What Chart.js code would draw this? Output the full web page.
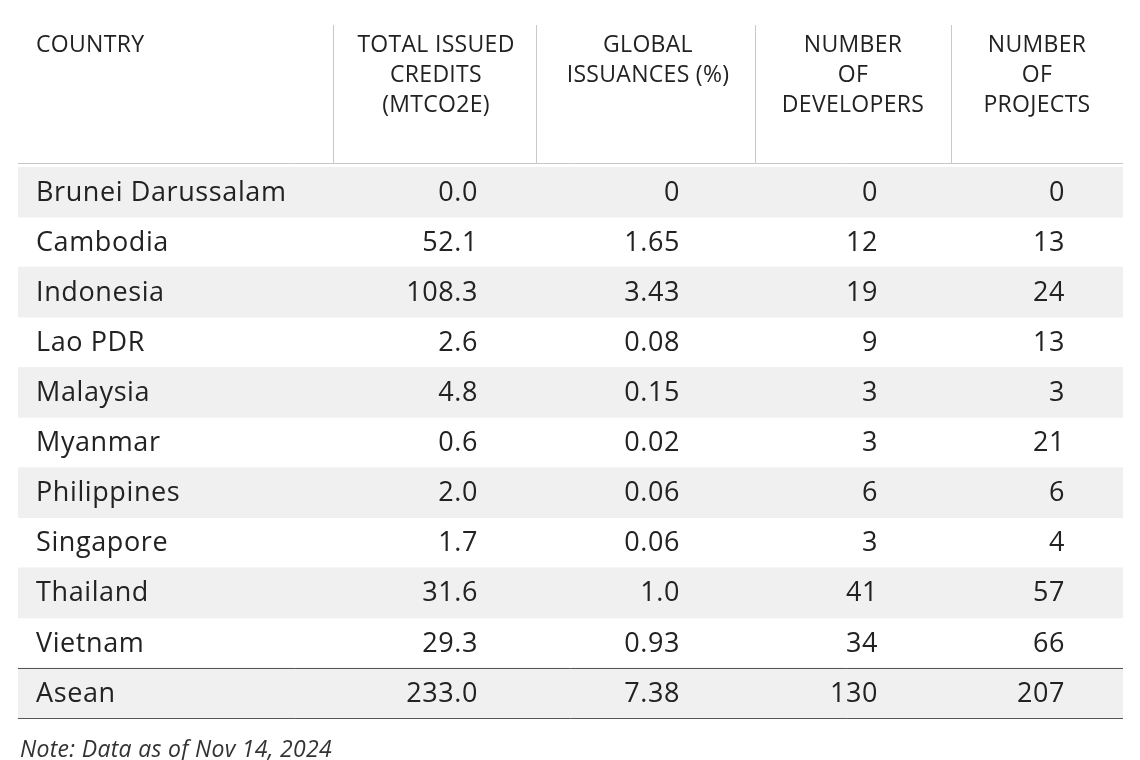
<!DOCTYPE html>
<html>
<head>
<meta charset="utf-8">
<script src="https://cdn.jsdelivr.net/npm/chart.js@4"></script>
<style>
  body { margin: 0; background: #fff; }
  #wrap { width: 1140px; height: 760px; }
</style>
</head>
<body>
<div id="wrap"><canvas id="tbl"></canvas></div>
<script>
const headers = [
    ['COUNTRY'],
    ['TOTAL ISSUED', 'CREDITS', '(MTCO2E)'],
    ['GLOBAL', 'ISSUANCES (%)'],
    ['NUMBER', 'OF', 'DEVELOPERS'],
    ['NUMBER', 'OF', 'PROJECTS']
];
const countries = ['Brunei Darussalam', 'Cambodia', 'Indonesia', 'Lao PDR', 'Malaysia', 'Myanmar',
    'Philippines', 'Singapore', 'Thailand', 'Vietnam', 'Asean'];
const credits = ['0.0', '52.1', '108.3', '2.6', '4.8', '0.6', '2.0', '1.7', '31.6', '29.3', '233.0'];
const shares = ['0', '1.65', '3.43', '0.08', '0.15', '0.02', '0.06', '0.06', '1.0', '0.93', '7.38'];
const developers = ['0', '12', '19', '9', '3', '3', '6', '3', '41', '34', '130'];
const projects = ['0', '13', '24', '13', '3', '21', '6', '4', '57', '66', '207'];
const note = 'Note: Data as of Nov 14, 2024';

const FONT = '"Open Sans", "Noto Sans", sans-serif';
const TEXT = '#222222';
const STRIPE = '#f0f0f0';

// stripe every other row plus the total row
const stripes = countries.map((_, i) => (i % 2 === 0 || i === countries.length - 1) ? [0, 1] : null);

// column anchors: [x, align]
const colHead = [[36, 'left'], [436, 'center'], [648, 'center'], [853, 'center'], [1037, 'center']];
const colBody = [[36, 'left'], [478, 'right'], [680, 'right'], [878, 'right'], [1065, 'right']];
const dividers = [333, 536, 755, 951];

const tablePlugin = {
    id: 'tableText',
    afterDatasetsDraw(chart) {
        const ctx = chart.ctx;
        const y = chart.scales.y;
        const area = chart.chartArea;
        ctx.save();
        ctx.fillStyle = TEXT;
        ctx.textBaseline = 'middle';

        // header
        ctx.font = '400 23px ' + FONT;
        ctx.letterSpacing = '0.3px';
        headers.forEach((lines, c) => {
            ctx.textAlign = colHead[c][1];
            lines.forEach((t, k) => ctx.fillText(t, colHead[c][0], 45 + k * 30));
        });

        ctx.strokeStyle = '#c8c8c8';
        ctx.lineWidth = 1;
        dividers.forEach(x => {
            ctx.beginPath(); ctx.moveTo(x + 0.5, 25); ctx.lineTo(x + 0.5, area.top - 4); ctx.stroke();
        });
        ctx.beginPath(); ctx.moveTo(area.left, area.top - 3.5); ctx.lineTo(area.right, area.top - 3.5); ctx.stroke();

        // body
        ctx.font = '400 27px ' + FONT;
        ctx.letterSpacing = '0.6px';
        const cols = [countries, credits, shares, developers, projects];
        countries.forEach((_, r) => {
            const py = y.getPixelForValue(r) + 1;
            cols.forEach((col, c) => {
                ctx.textAlign = colBody[c][1];
                ctx.fillText(col[r], colBody[c][0], py);
            });
        });

        // total row rules
        const last = countries.length - 1;
        const half = (y.getPixelForValue(1) - y.getPixelForValue(0)) / 2;
        ctx.strokeStyle = '#555';
        [y.getPixelForValue(last) - half, y.getPixelForValue(last) + half].forEach(ly => {
            ctx.beginPath(); ctx.moveTo(area.left, Math.round(ly) + 0.5); ctx.lineTo(area.right, Math.round(ly) + 0.5); ctx.stroke();
        });

        ctx.font = 'italic 400 23px ' + FONT;
        ctx.letterSpacing = '0.3px';
        ctx.textAlign = 'left';
        ctx.fillStyle = '#333';
        ctx.fillText(note, 20, 750);
        ctx.restore();
    }
};

new Chart(document.getElementById('tbl'), {
    type: 'bar',
    data: {
        labels: countries,
        datasets: [{
            data: stripes,
            backgroundColor: STRIPE,
            barPercentage: 1,
            categoryPercentage: 1,
            borderWidth: 0
        }]
    },
    options: {
        indexAxis: 'y',
        responsive: true,
        maintainAspectRatio: false,
        animation: false,
        layout: { padding: { top: 167, bottom: 42, left: 18, right: 17 } },
        scales: {
            x: { display: false, min: 0, max: 1 },
            y: { display: false }
        },
        plugins: { legend: { display: false }, tooltip: { enabled: false } }
    },
    plugins: [tablePlugin]
});
</script>
</body>
</html>
